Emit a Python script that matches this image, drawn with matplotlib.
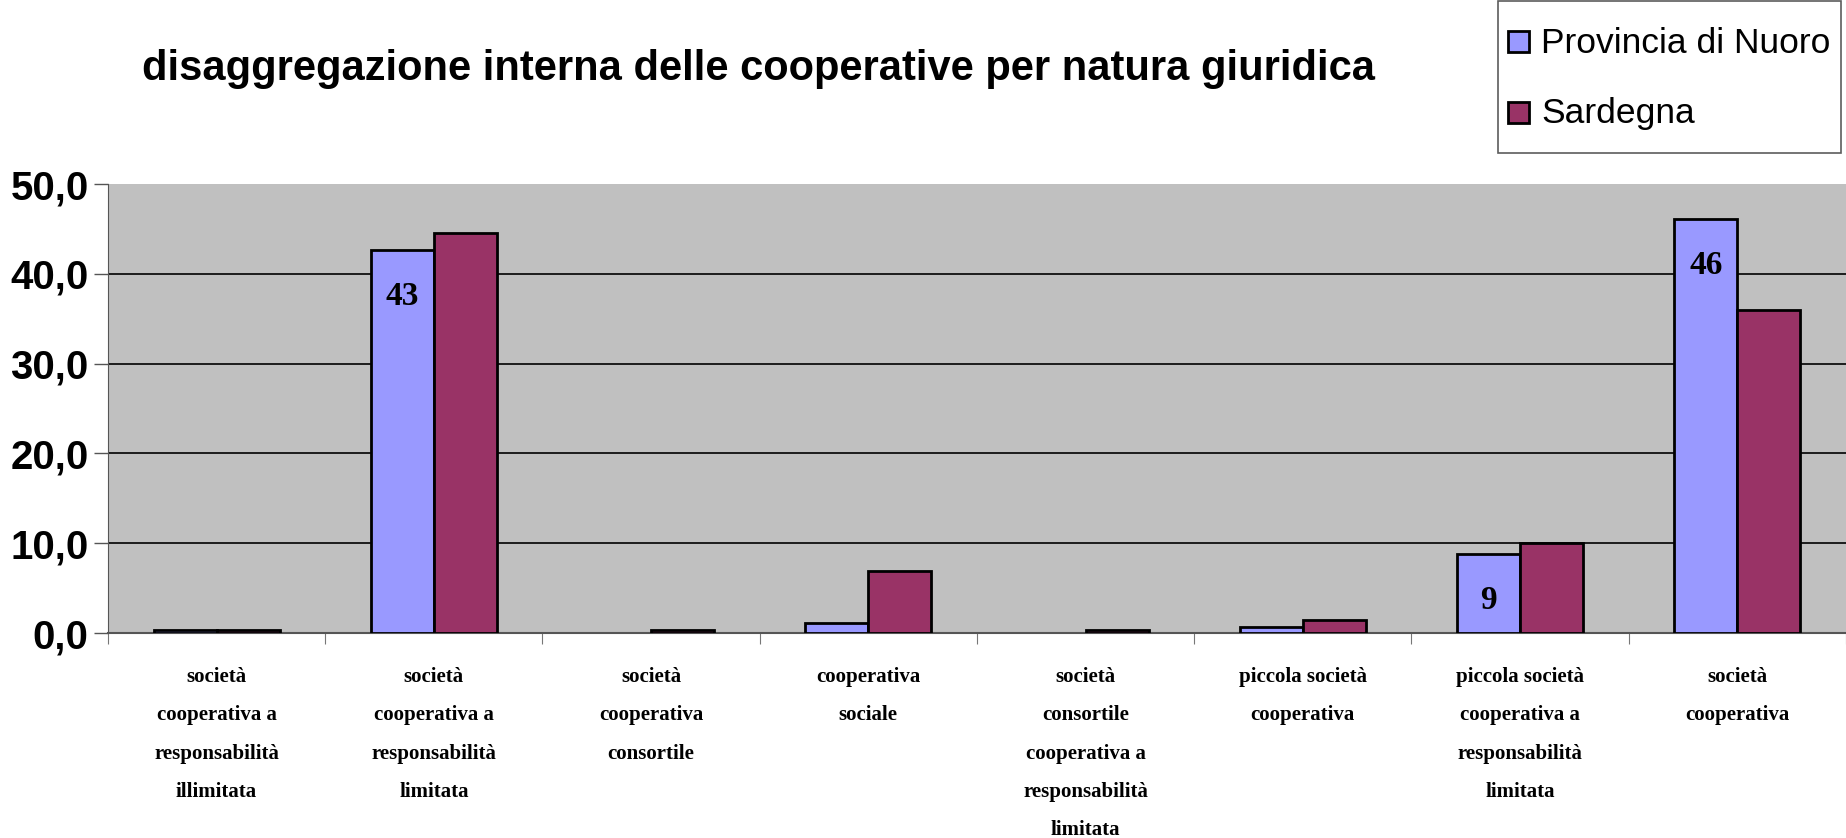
import matplotlib
matplotlib.use("Agg")
import matplotlib.pyplot as plt
import numpy as np
from matplotlib.ticker import FuncFormatter
from matplotlib.patches import Patch, Rectangle
from matplotlib.legend_handler import HandlerPatch

# Quote % per natura giuridica
categories = [
    "società\ncooperativa a\nresponsabilità\nillimitata",
    "società\ncooperativa a\nresponsabilità\nlimitata",
    "società\ncooperativa\nconsortile",
    "cooperativa\nsociale",
    "società\nconsortile\ncooperativa a\nresponsabilità\nlimitata",
    "piccola società\ncooperativa",
    "piccola società\ncooperativa a\nresponsabilità\nlimitata",
    "società\ncooperativa",
]
nuoro = [0.3, 42.6, 0.0, 1.1, 0.0, 0.7, 8.8, 46.1]
sardegna = [0.3, 44.5, 0.3, 6.9, 0.3, 1.5, 10.0, 36.0]
series_names = ["Provincia di Nuoro", "Sardegna"]
yticks = [0, 10, 20, 30, 40, 50]

NARROW = ["Liberation Sans Narrow", "Liberation Sans", "DejaVu Sans"]
SERIF = ["Liberation Serif", "DejaVu Serif"]
c_nuoro = "#9999FF"
c_sard = "#993366"

fig = plt.figure(figsize=(18.46, 8.38), dpi=100)
ax = fig.add_axes([0.0585, 0.2446, 0.9415, 0.5358])
ax.set_facecolor("#C0C0C0")

x = np.arange(len(categories))
w = 0.29
for vals, off, col in [(nuoro, -w / 2, c_nuoro), (sardegna, w / 2, c_sard)]:
    edges = ["black" if v > 0 else "none" for v in vals]
    ax.bar(x + off, vals, width=w, color=col, edgecolor=edges, linewidth=2, zorder=3)

# data labels on the larger Nuoro bars
for xi, v in zip(x, nuoro):
    if v >= 5:
        ax.annotate(f"{v:.0f}", (xi - w / 2, v), xytext=(0, -22), textcoords="offset points",
                    ha="center", va="top", fontsize=24, fontweight="bold", family=SERIF, zorder=4)

ax.set_xlim(-0.5, len(categories) - 0.5)
ax.set_ylim(0, 50)
ax.set_yticks(yticks)
ax.yaxis.set_major_formatter(FuncFormatter(lambda v, p: f"{v:.1f}".replace(".", ",")))
for lab in ax.get_yticklabels():
    lab.set_family(NARROW)
    lab.set_fontweight("bold")
    lab.set_fontsize(29)
ax.grid(axis="y", color="black", linewidth=1.2, zorder=1)
ax.yaxis.get_gridlines()[-1].set_visible(False)
ax.tick_params(axis="y", length=10, width=1, color="#555555", pad=4)

ax.set_xticks(np.arange(len(categories) + 1) - 0.5, minor=False)
ax.set_xticklabels([])
ax.set_xticks(x, minor=True)
ax.set_xticklabels(categories, minor=True, family=SERIF, fontweight="bold", fontsize=15,
                   linespacing=2.22, va="top")
ax.tick_params(axis="x", which="major", length=8, color="#777777")
ax.tick_params(axis="x", which="minor", length=0, pad=24.5)

for s in ["top", "right"]:
    ax.spines[s].set_visible(False)
ax.spines["left"].set_color("#555555")
ax.spines["bottom"].set_color("#555555")
ax.spines["bottom"].set_linewidth(1.5)

fig.text(0.411, 0.918, "disaggregazione interna delle cooperative per natura giuridica",
         ha="center", va="center", fontsize=30, fontweight="bold", family=NARROW)


def small_square(legend, orig_handle, xdescent, ydescent, width, height, fontsize):
    # small square centred in a tall legend row
    side = 0.58 * fontsize
    return Rectangle((-xdescent, -ydescent + (height - side) / 2), side, side)


handles = [Patch(facecolor=c_nuoro, edgecolor="black", linewidth=2),
           Patch(facecolor=c_sard, edgecolor="black", linewidth=2)]
leg = fig.legend(handles, series_names, loc="upper right", bbox_to_anchor=(0.9975, 0.999),
                 prop={"family": NARROW, "size": 25.5}, frameon=True, fancybox=False,
                 handlelength=0.58, handleheight=2.24, handletextpad=0.35, borderpad=0.3,
                 labelspacing=0.3, borderaxespad=0,
                 handler_map={Patch: HandlerPatch(patch_func=small_square)})
leg.get_frame().set_edgecolor("#333333")
leg.get_frame().set_linewidth(1.2)

fig.savefig("out.png", dpi=100)
